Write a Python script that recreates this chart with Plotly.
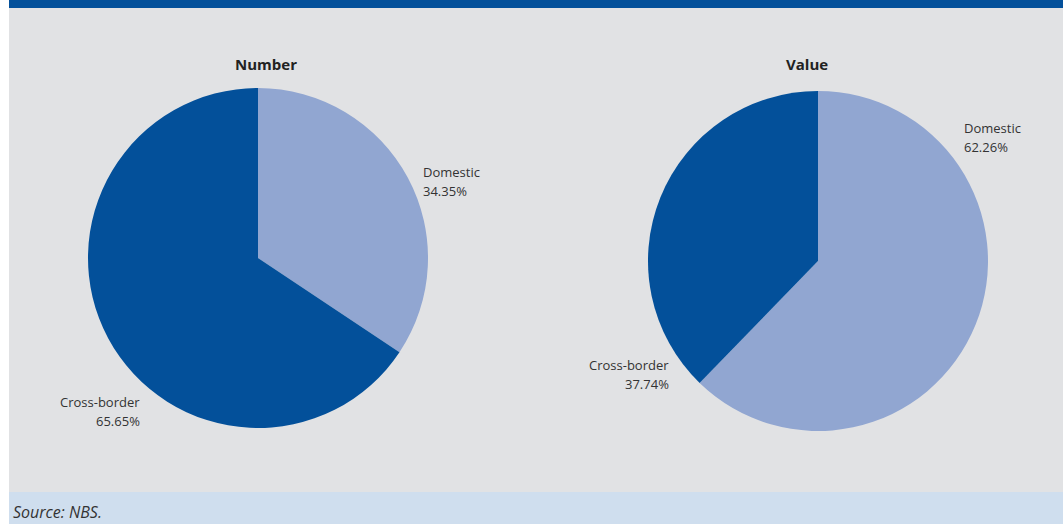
import plotly.graph_objects as go

W, H = 1063, 524

categories = ["Domestic", "Cross-border"]
number_values = [34.35, 65.65]
value_values = [62.26, 37.74]
titles = ["Number", "Value"]
source_text = "Source: NBS."

DARK = "#03509a"
LIGHT = "#91a6d1"
GREY = "#e1e2e4"
BAND = "#cfdeee"

def px_x(p):
    return p / W

def px_y(p):
    return 1 - p / H

fig = go.Figure()

fig.add_trace(go.Pie(
    labels=categories, values=number_values, sort=False, direction="clockwise",
    rotation=0, textinfo="none", hoverinfo="label+percent",
    marker=dict(colors=[LIGHT, DARK], line=dict(width=0)),
    domain=dict(x=[px_x(88), px_x(428)], y=[px_y(428), px_y(88)]),
    showlegend=False,
))
fig.add_trace(go.Pie(
    labels=categories, values=value_values, sort=False, direction="clockwise",
    rotation=0, textinfo="none", hoverinfo="label+percent",
    marker=dict(colors=[LIGHT, DARK], line=dict(width=0)),
    domain=dict(x=[px_x(648), px_x(988)], y=[px_y(431), px_y(91)]),
    showlegend=False,
))

shapes = [
    dict(type="rect", xref="paper", yref="paper", x0=px_x(9), x1=1, y0=px_y(492), y1=px_y(8),
         fillcolor=GREY, line=dict(width=0), layer="below"),
    dict(type="rect", xref="paper", yref="paper", x0=px_x(9), x1=1, y0=px_y(8), y1=1,
         fillcolor="#03509a", line=dict(width=0), layer="below"),
    dict(type="rect", xref="paper", yref="paper", x0=px_x(9), x1=1, y0=0, y1=px_y(492),
         fillcolor=BAND, line=dict(width=0), layer="below"),
]

FONT = "Open Sans"
ann = []

def text(t, x, y, xanchor="center", size=13, color="#333"):
    return dict(text=t, x=px_x(x), y=px_y(y), xref="paper", yref="paper",
                showarrow=False, xanchor=xanchor, yanchor="middle",
                font=dict(family=FONT, size=size, color=color))

ann.append(text("<b>" + titles[0] + "</b>", 266, 64, size=15, color="#222"))
ann.append(text("<b>" + titles[1] + "</b>", 807, 64, size=15, color="#222"))

def label(cat, val, x, y, align):
    return [text(cat, x, y, xanchor=align), text(f"{val:.2f}%", x, y + 19, xanchor=align)]

ann += label(categories[0], number_values[0], 421, 172, "left")
ann += label(categories[1], number_values[1], 142, 402, "right")
ann += label(categories[0], value_values[0], 962, 128, "left")
ann += label(categories[1], value_values[1], 671, 365, "right")

ann.append(text("<i>" + source_text + "</i>", 11, 512, xanchor="left", size=16))

fig.update_layout(
    width=W, height=H, margin=dict(l=0, r=0, t=0, b=0),
    paper_bgcolor="white", plot_bgcolor="white",
    shapes=shapes, annotations=ann, showlegend=False,
)

fig.write_html("out.html")
